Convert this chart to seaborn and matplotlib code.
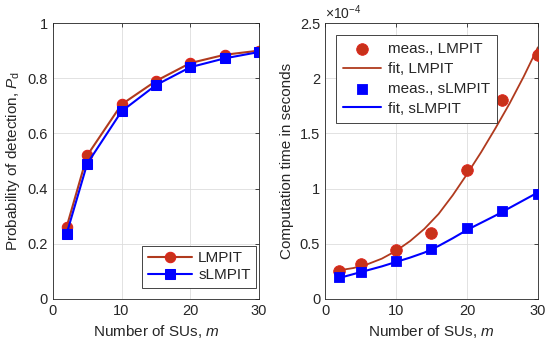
import numpy as np
import pandas as pd
import seaborn as sns
import matplotlib
matplotlib.use('Agg')
from matplotlib import pyplot as plt
from matplotlib.ticker import FuncFormatter

# data
m = [2, 5, 10, 15, 20, 25, 30]
pd_lmpit = [0.26, 0.52, 0.705, 0.79, 0.855, 0.885, 0.90]
pd_slmpit = [0.235, 0.49, 0.68, 0.775, 0.84, 0.872, 0.895]

t_lmpit = [0.25e-4, 0.32e-4, 0.44e-4, 0.60e-4, 1.17e-4, 1.80e-4, 2.21e-4]
t_slmpit = [0.20e-4, 0.245e-4, 0.34e-4, 0.455e-4, 0.64e-4, 0.795e-4, 0.955e-4]

fit_m = [2, 4, 6, 8, 10, 12, 14, 16, 18, 20, 22, 24, 26, 28, 30]
fit_lmpit = [0.26e-4, 0.28e-4, 0.315e-4, 0.365e-4, 0.435e-4, 0.525e-4, 0.635e-4,
             0.77e-4, 0.94e-4, 1.13e-4, 1.33e-4, 1.545e-4, 1.77e-4, 2.015e-4, 2.28e-4]
fit_slmpit = [0.19e-4, 0.225e-4, 0.26e-4, 0.295e-4, 0.335e-4, 0.375e-4, 0.42e-4,
              0.48e-4, 0.55e-4, 0.625e-4, 0.69e-4, 0.755e-4, 0.825e-4, 0.895e-4, 0.965e-4]

red_line = '#B03A1E'
red_face = '#C8321A'
blue = '#0000FF'

sns.set_style('white')
plt.rcParams['font.family'] = ['Liberation Sans', 'DejaVu Sans']
plt.rcParams['font.size'] = 10.5
plt.rcParams['mathtext.fontset'] = 'custom'
plt.rcParams['mathtext.it'] = 'Liberation Sans:italic'
plt.rcParams['mathtext.rm'] = 'Liberation Sans'

fig = plt.figure(figsize=(5.5, 3.44), dpi=100)
ax1 = fig.add_axes([0.096, 0.131, 0.375, 0.802])
ax2 = fig.add_axes([0.591, 0.131, 0.387, 0.802])

df1 = pd.DataFrame({'m': m * 2, 'pd': pd_lmpit + pd_slmpit,
                    'test': ['LMPIT'] * len(m) + ['sLMPIT'] * len(m)})
sns.lineplot(data=df1[df1.test == 'LMPIT'], x='m', y='pd', ax=ax1, color=red_line,
             lw=1.5, marker='o', markersize=7.5, markerfacecolor=red_face,
             markeredgecolor='#E0201A', label='LMPIT')
sns.lineplot(data=df1[df1.test == 'sLMPIT'], x='m', y='pd', ax=ax1, color=blue,
             lw=1.5, marker='s', markersize=6.5, markerfacecolor=blue,
             markeredgecolor=blue, label='sLMPIT')

ax1.set_xlim(0, 30)
ax1.set_ylim(0, 1)
ax1.set_xticks([0, 10, 20, 30])
ax1.set_yticks([0, 0.2, 0.4, 0.6, 0.8, 1])
ax1.yaxis.set_major_formatter(FuncFormatter(lambda v, p: '%g' % round(v, 3)))
ax1.set_xlabel('Number of SUs, $m$', fontsize=11)
ax1.set_ylabel('Probability of detection, $P_{\\mathrm{d}}$', fontsize=11)
leg1 = ax1.legend(loc='lower right', bbox_to_anchor=(1.0, 0.03), fancybox=False,
                  framealpha=1, edgecolor='#262626', fontsize=11, handlelength=2.9,
                  handletextpad=0.4, borderpad=0.35, labelspacing=0.2, borderaxespad=0.2)
leg1.get_frame().set_linewidth(0.6)

# right panel
sns.scatterplot(x=m, y=t_lmpit, ax=ax2, marker='o', s=70, color=red_face,
                edgecolor='#E0201A', linewidth=0.6, label='meas., LMPIT', zorder=3)
sns.lineplot(x=fit_m, y=fit_lmpit, ax=ax2, color=red_line, lw=1.3, label='fit, LMPIT')
sns.scatterplot(x=m, y=t_slmpit, ax=ax2, marker='s', s=55, color=blue,
                edgecolor=blue, linewidth=0.6, label='meas., sLMPIT', zorder=3)
sns.lineplot(x=fit_m, y=fit_slmpit, ax=ax2, color=blue, lw=1.5, label='fit, sLMPIT')

ax2.set_xlim(0, 30)
ax2.set_ylim(0, 2.5e-4)
ax2.set_xticks([0, 10, 20, 30])
ax2.set_yticks(np.arange(0, 2.51e-4, 0.5e-4))
ax2.yaxis.set_major_formatter(FuncFormatter(lambda v, p: '%g' % round(v * 1e4, 3)))
ax2.text(0.0, 1.005, '$\\times10^{-4}$', transform=ax2.transAxes, fontsize=10,
         ha='left', va='bottom', color='#262626')
ax2.set_xlabel('Number of SUs, $m$', fontsize=11)
ax2.set_ylabel('Computation time in seconds', fontsize=11)
leg2 = ax2.legend(loc='upper left', bbox_to_anchor=(0.05, 0.955), fancybox=False,
                  framealpha=1, edgecolor='#262626', fontsize=11, handlelength=2.5,
                  handletextpad=0.5, borderpad=0.45, labelspacing=0.38, borderaxespad=0.0)
leg2.get_frame().set_linewidth(0.6)

for ax in (ax1, ax2):
    ax.grid(True, color='#DDDDDD', lw=0.6)
    ax.set_axisbelow(True)
    for sp in ax.spines.values():
        sp.set_color('#262626')
        sp.set_linewidth(0.6)
    ax.tick_params(direction='in', length=3, width=0.6, colors='#262626',
                   labelsize=10.5, top=True, right=True, labeltop=False, labelright=False)
    ax.xaxis.label.set_color('#262626')
    ax.yaxis.label.set_color('#262626')

fig.savefig('out.png', dpi=100)
